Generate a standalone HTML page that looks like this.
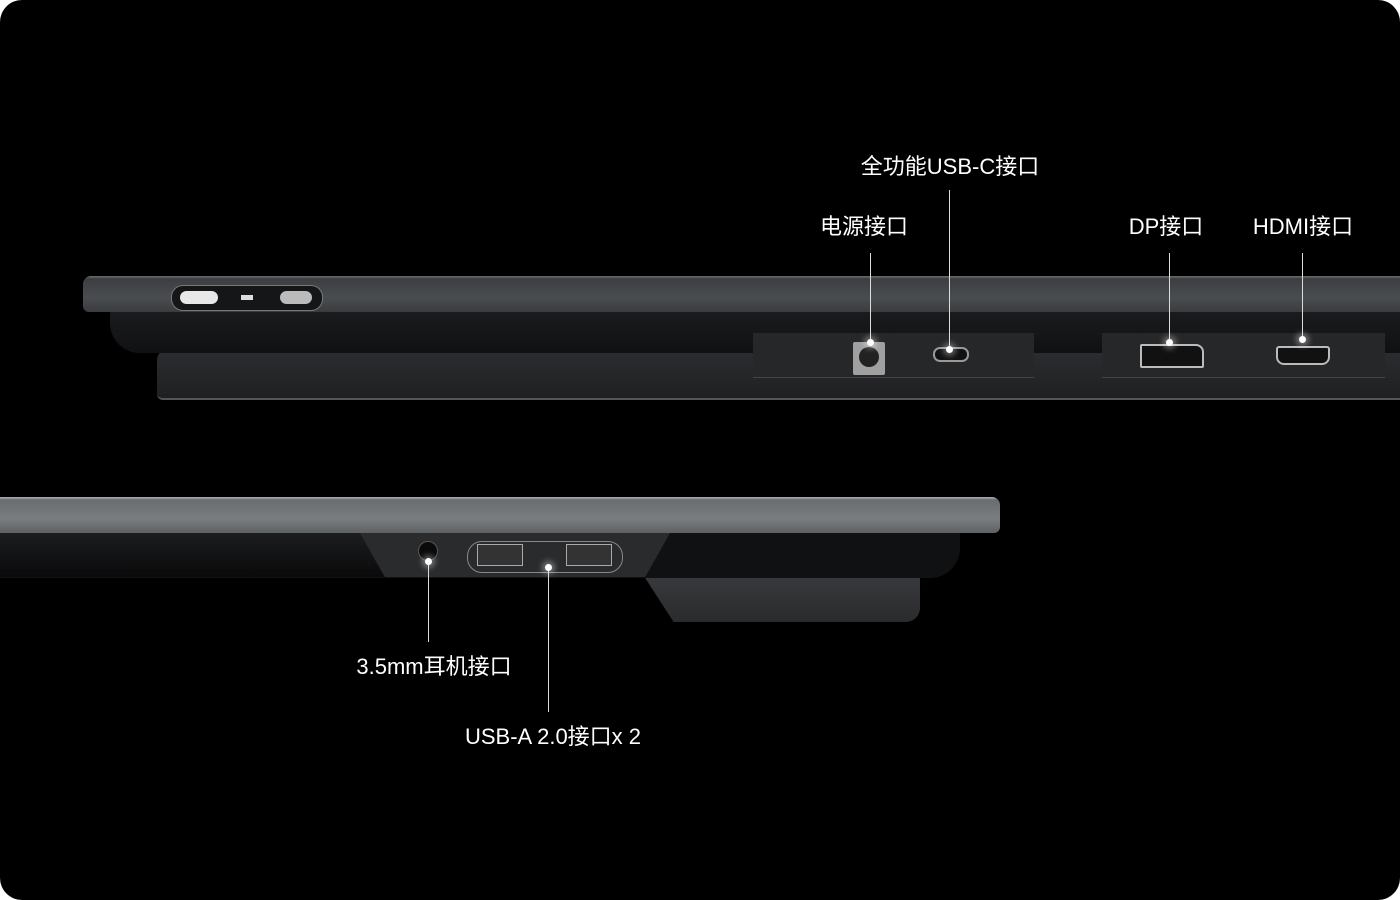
<!DOCTYPE html>
<html><head><meta charset="utf-8"><style>
body{margin:0;background:#fff;width:1400px;height:900px;overflow:hidden}
#c{position:absolute;left:0;top:0;width:1400px;height:900px;background:#000;border-radius:22px;overflow:hidden;font-family:"Liberation Sans","Noto Sans CJK SC",sans-serif;color:#fff}
.a{position:absolute}
.t{position:absolute;font-size:22px;white-space:nowrap;transform:translateX(-50%)}
.l{position:absolute;width:1px;background:#ddd}
.d{position:absolute;width:7px;height:7px;border-radius:50%;background:#fff;box-shadow:0 0 6px 3px rgba(255,255,255,.35)}
</style></head><body><div id="c">
<!-- top device -->
<div class="a" style="left:157px;top:350px;width:1260px;height:48px;background:linear-gradient(#2c2d30,#1f2022);border-radius:10px 0 0 6px;border-bottom:2px solid #555"></div>
<div class="a" style="left:110px;top:305px;width:1300px;height:48px;background:linear-gradient(#1c1d1f,#101112);border-radius:0 0 0 30px"></div>
<div class="a" style="left:83px;top:276px;width:1330px;height:36px;background:linear-gradient(#6e7174 0,#3c3e41 8%,#4a4d50 60%,#3a3c3f);border-radius:8px 0 0 6px"></div>
<div class="a" style="left:171px;top:285px;width:150px;height:24px;border-radius:12px;background:#151617;border:1px solid #777"></div>
<div class="a" style="left:180px;top:291px;width:38px;height:13px;border-radius:7px;background:#e8e8e8"></div>
<div class="a" style="left:241px;top:295px;width:12px;height:5px;background:#ddd"></div>
<div class="a" style="left:280px;top:291px;width:32px;height:13px;border-radius:7px;background:#bbb"></div>
<div class="a" style="left:753px;top:333px;width:281px;height:44px;background:#262729;border-bottom:1px solid #444"></div>
<div class="a" style="left:1102px;top:333px;width:283px;height:44px;background:#262729;border-bottom:1px solid #444"></div>
<div class="a" style="left:853px;top:342px;width:32px;height:33px;background:#a0a0a0;border-radius:2px"></div>
<div class="a" style="left:859px;top:347px;width:20px;height:20px;background:#222;border-radius:50%"></div>
<div class="a" style="left:933px;top:347px;width:32px;height:11px;border:2px solid #999;border-radius:7px;background:#111"></div>
<div class="a" style="left:1140px;top:344px;width:60px;height:20px;border:2px solid #bbb;background:#111;border-radius:2px 8px 2px 2px"></div>
<div class="a" style="left:1276px;top:346px;width:50px;height:15px;border:2px solid #bbb;background:#111;border-radius:3px 3px 8px 8px"></div>
<!-- bottom device -->
<div class="a" style="left:640px;top:570px;width:280px;height:52px;background:linear-gradient(#3a3b3e,#2a2b2d);clip-path:polygon(0 0,100% 0,100% 100%,12% 100%);border-radius:0 0 14px 0"></div>
<div class="a" style="left:0;top:528px;width:960px;height:50px;background:#101112;border-radius:0 0 30px 0"></div>
<div class="a" style="left:0;top:533px;width:390px;height:44px;background:linear-gradient(#1c1d1f,#0a0a0b)"></div>
<div class="a" style="left:360px;top:533px;width:310px;height:44px;background:#2a2b2d;clip-path:polygon(0 0,100% 0,92% 100%,8% 100%)"></div>
<div class="a" style="left:418px;top:541px;width:18px;height:18px;border-radius:50%;background:#0a0a0a;border:1px solid #555"></div>
<div class="a" style="left:467px;top:541px;width:154px;height:30px;border-radius:15px;border:1px solid #888"></div>
<div class="a" style="left:477px;top:544px;width:44px;height:20px;border:1px solid #aaa;background:#333"></div>
<div class="a" style="left:566px;top:544px;width:44px;height:20px;border:1px solid #aaa;background:#333"></div>
<div class="a" style="left:0;top:497px;width:1000px;height:36px;background:linear-gradient(#b0b2b4 0,#6a6d70 8%,#7a7d80 60%,#5e6164);border-radius:0 8px 6px 0"></div>
<!-- labels -->
<div class="t" style="left:864px;top:209px">电源接口</div>
<div class="l" style="left:870px;top:253px;height:90px"></div><div class="d" style="left:867px;top:339px"></div>
<div class="t" style="left:950px;top:149px">全功能USB-C接口</div>
<div class="l" style="left:949px;top:190px;height:160px"></div><div class="d" style="left:946px;top:346px"></div>
<div class="t" style="left:1166px;top:209px">DP接口</div>
<div class="l" style="left:1169px;top:253px;height:90px"></div><div class="d" style="left:1166px;top:339px"></div>
<div class="t" style="left:1303px;top:209px">HDMI接口</div>
<div class="l" style="left:1302px;top:253px;height:90px"></div><div class="d" style="left:1299px;top:336px"></div>
<div class="l" style="left:428px;top:562px;height:80px"></div><div class="d" style="left:425px;top:558px"></div>
<div class="t" style="left:434px;top:649px">3.5mm耳机接口</div>
<div class="l" style="left:548px;top:568px;height:144px"></div><div class="d" style="left:545px;top:564px"></div>
<div class="t" style="left:553px;top:719px">USB-A 2.0接口x 2</div>
</div></body></html>
